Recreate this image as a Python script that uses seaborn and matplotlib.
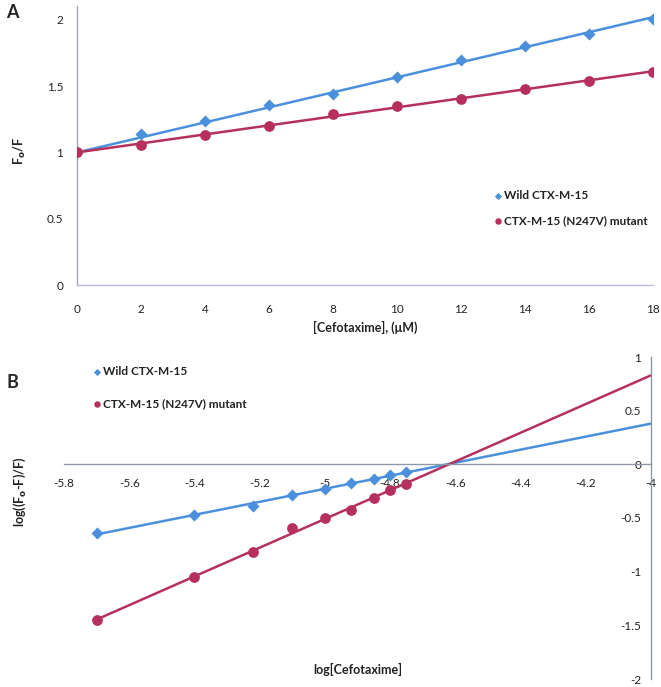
import numpy as np
import pandas as pd
import matplotlib
matplotlib.use("Agg")
import matplotlib.pyplot as plt
import seaborn as sns

# Panel A: Stern-Volmer
conc_a = [0, 2, 4, 6, 8, 10, 12, 14, 16, 18]
wild_a = [1.00, 1.14, 1.24, 1.36, 1.44, 1.57, 1.70, 1.80, 1.89, 2.01]
mut_a = [1.00, 1.06, 1.13, 1.20, 1.29, 1.35, 1.40, 1.48, 1.54, 1.61]

# Panel B: double log plot
logc_b = [-5.70, -5.40, -5.22, -5.10, -5.00, -4.92, -4.85, -4.80, -4.75]
wild_b = [-0.64, -0.47, -0.39, -0.29, -0.23, -0.17, -0.14, -0.10, -0.07]
mut_b = [-1.45, -1.05, -0.82, -0.59, -0.50, -0.43, -0.31, -0.24, -0.18]

series_names = ["Wild CTX-M-15", "CTX-M-15 (N247V) mutant"]
blue = "#4a90dc"
red = "#b5305a"
axis_col = "#9ea6b4"
txt_col = "#222222"

sns.set_style("white")
plt.rcParams["font.family"] = ["Lato", "DejaVu Sans"]

W, H = 661, 687
fig = plt.figure(figsize=(W / 100, H / 100), dpi=100)


def box(left, top, right, bottom):
    return [left / W, 1 - bottom / H, (right - left) / W, (bottom - top) / H]


def fit_line(x, y, x0, x1, icpt=None):
    x = np.asarray(x, float)
    y = np.asarray(y, float)
    if icpt is None:
        k, b = np.polyfit(x, y, 1)
    else:
        # trendline forced through (0, icpt)
        k = np.sum(x * (y - icpt)) / np.sum(x * x)
        b = icpt
    xs = np.array([x0, x1])
    return pd.DataFrame({"x": xs, "y": k * xs + b})


# ---------- A ----------
ax = fig.add_axes(box(77, 6, 653, 285))
df_a = pd.DataFrame({"x": conc_a * 2, "y": wild_a + mut_a,
                     "s": [series_names[0]] * 10 + [series_names[1]] * 10})
for name, col, mk, ms in [(series_names[0], blue, "D", 38), (series_names[1], red, "o", 60)]:
    sub = df_a[df_a.s == name]
    ln = fit_line(sub.x, sub.y, 0, 18, icpt=1.0)
    sns.lineplot(data=ln, x="x", y="y", ax=ax, color=col, lw=1.8)
    sns.scatterplot(data=sub, x="x", y="y", ax=ax, color=col, marker=mk, s=ms,
                    edgecolor=col, linewidth=0, label=name, zorder=3)
ax.set_xlim(0, 18)
ax.set_ylim(0, 2.105)
ax.set_xticks(range(0, 19, 2))
ax.set_yticks([0, 0.5, 1, 1.5, 2])
ax.set_yticklabels(["0", "0.5", "1", "1.5", "2"])
for s in ["top", "right"]:
    ax.spines[s].set_visible(False)
for s in ["left", "bottom"]:
    ax.spines[s].set_color(axis_col)
    ax.spines[s].set_linewidth(1.0)
ax.spines["bottom"].set_color("#b8bde0")
ax.tick_params(axis="both", direction="out", length=4, width=0.8, color=axis_col,
               labelsize=8.5, labelcolor=txt_col, pad=6)
ax.tick_params(axis="x", pad=10)
ax.set_xlabel("[Cefotaxime], (μM)", fontsize=9, fontweight="bold", color=txt_col)
ax.xaxis.set_label_coords(0.5, -0.13)
ax.set_ylabel("F$_\\mathbf{o}$/F", fontsize=9, fontweight="bold", color=txt_col)
ax.yaxis.set_label_coords((28 - 77) / 576, 0.48)
leg = ax.legend(loc="upper left", bbox_to_anchor=(412 / 576, 1 - 179 / 279),
                frameon=False, fontsize=8.5, handletextpad=0.1, labelspacing=1.2,
                borderaxespad=0, handlelength=0.8, markerscale=0.6)
for t in leg.get_texts():
    t.set_fontweight("bold")
    t.set_color(txt_col)
fig.text(12 / W, 1 - 12 / H, "A", fontsize=13, fontweight="bold", va="center", ha="center")

# ---------- B ----------
bx = fig.add_axes(box(64, 357, 651, 679))
df_b = pd.DataFrame({"x": logc_b * 2, "y": wild_b + mut_b,
                     "s": [series_names[0]] * 9 + [series_names[1]] * 9})
for name, col, mk, ms in [(series_names[0], blue, "D", 38), (series_names[1], red, "o", 60)]:
    sub = df_b[df_b.s == name]
    ln = fit_line(sub.x, sub.y, min(logc_b), -4.0)
    sns.lineplot(data=ln, x="x", y="y", ax=bx, color=col, lw=1.8)
    sns.scatterplot(data=sub, x="x", y="y", ax=bx, color=col, marker=mk, s=ms,
                    edgecolor=col, linewidth=0, label=name, zorder=3)
bx.set_xlim(-5.8, -4.0)
bx.set_ylim(-2, 1)
xt = [-5.8, -5.6, -5.4, -5.2, -5.0, -4.8, -4.6, -4.4, -4.2, -4.0]
bx.set_xticks(xt)
bx.set_xticklabels(["-5.8", "-5.6", "-5.4", "-5.2", "-5", "-4.8", "-4.6", "-4.4", "-4.2", "-4"])
bx.set_yticks([-2, -1.5, -1, -0.5, 0, 0.5, 1])
bx.set_yticklabels(["-2", "-1.5", "-1", "-0.5", "0", "0.5", "1"])
bx.spines["top"].set_visible(False)
bx.spines["right"].set_visible(False)
bx.spines["bottom"].set_position(("data", 0))
bx.spines["left"].set_position(("data", -4.0))
for s in ["left", "bottom"]:
    bx.spines[s].set_color("#8e98a4")
    bx.spines[s].set_linewidth(1.0)
bx.tick_params(axis="x", direction="in", length=4, width=0.8, color="#8e98a4",
               labelsize=8.5, labelcolor=txt_col, pad=10)
bx.tick_params(axis="y", direction="out", length=4, width=0.8, color="#8e98a4",
               labelsize=8.5, labelcolor=txt_col, pad=3)
bx.set_xlabel("log[Cefotaxime]", fontsize=9, fontweight="bold", color=txt_col)
bx.xaxis.set_label_coords(0.5, 1 - (663 - 357) / 322)
bx.set_ylabel("log((F$_\\mathbf{o}$-F)/F)", fontsize=9, fontweight="bold", color=txt_col)
bx.yaxis.set_label_coords((28 - 64) / 587, 1 - (492 - 357) / 322)
leg = bx.legend(loc="upper left", bbox_to_anchor=(24 / 587, 1 - 4 / 322),
                frameon=False, fontsize=8.5, handletextpad=0.1, labelspacing=1.8,
                borderaxespad=0, handlelength=0.8, markerscale=0.6)
for t in leg.get_texts():
    t.set_fontweight("bold")
    t.set_color(txt_col)
fig.text(12 / W, 1 - 382 / H, "B", fontsize=13, fontweight="bold", va="center", ha="center")

fig.savefig("out.png", dpi=100)
